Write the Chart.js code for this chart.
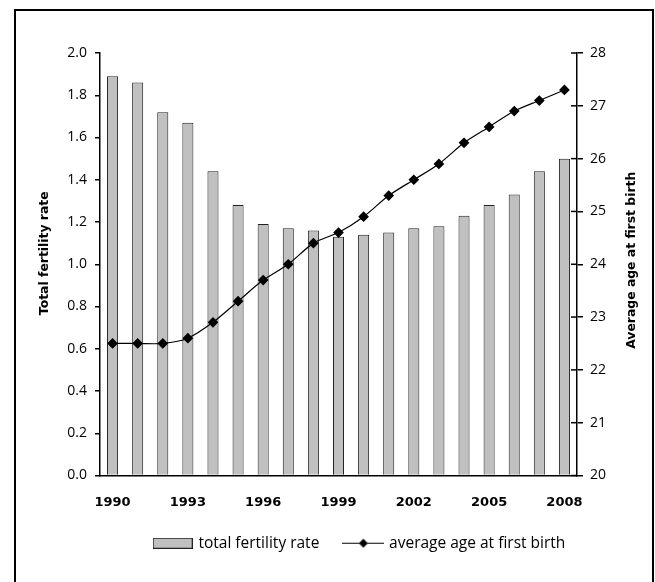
<!DOCTYPE html>
<html><head><meta charset="utf-8">
<script src="https://cdn.jsdelivr.net/npm/chart.js@4"></script>
<style>
html,body{margin:0;padding:0;background:#fff;}
#wrap{position:relative;width:655px;height:582px;overflow:hidden;}
#frame{position:absolute;left:14px;top:9px;width:636px;height:600px;border:2px solid #000;pointer-events:none;}
canvas{position:absolute;left:0;top:0;}
</style></head><body>
<div id="wrap"><canvas id="c" width="655" height="582" style="width:655px;height:582px"></canvas><div id="frame"></div></div>
<script>
const years = [1990,1991,1992,1993,1994,1995,1996,1997,1998,1999,2000,2001,2002,2003,2004,2005,2006,2007,2008];
const fertilityRate = [1.89,1.86,1.72,1.67,1.44,1.28,1.19,1.17,1.16,1.13,1.14,1.15,1.17,1.18,1.23,1.28,1.33,1.44,1.50];
const ageFirstBirth = [22.5,22.5,22.5,22.6,22.9,23.3,23.7,24.0,24.4,24.6,24.9,25.3,25.6,25.9,26.3,26.6,26.9,27.1,27.3];
const seriesNames = ['total fertility rate','average age at first birth'];
const leftAxisTitle = 'Total fertility rate';
const rightAxisTitle = 'Average age at first birth';

const tickFont = {family:"'Open Sans', sans-serif", size:14};
const boldFont = {family:"'DejaVu Sans', sans-serif", weight:'bold', size:13};
const titleFontCss = "bold 12.4px 'DejaVu Sans', sans-serif";

function makeBarSwatch(){
  const c = document.createElement('canvas'); c.width = 40; c.height = 11;
  const g = c.getContext('2d');
  g.fillStyle = '#c0c0c0'; g.fillRect(0,0,40,11);
  g.strokeStyle = '#222'; g.lineWidth = 1; g.strokeRect(0.5,0.5,39,10);
  return c;
}
function makeLineSwatch(){
  const c = document.createElement('canvas'); c.width = 42; c.height = 11;
  const g = c.getContext('2d');
  g.strokeStyle = '#000'; g.lineWidth = 1.2;
  g.beginPath(); g.moveTo(0,5.5); g.lineTo(42,5.5); g.stroke();
  g.fillStyle = '#000'; g.beginPath();
  g.moveTo(21,1); g.lineTo(25.5,5.5); g.lineTo(21,10); g.lineTo(16.5,5.5); g.closePath(); g.fill();
  return c;
}
const swatches = [makeBarSwatch(), makeLineSwatch()];

const extras = {
  id:'extras',
  afterDraw(chart){
    const s = chart.scales.y1, ctx = chart.ctx, a = chart.chartArea;
    ctx.save(); ctx.strokeStyle = '#000'; ctx.lineWidth = 1.5;
    s.ticks.forEach((t,i)=>{
      const yy = s.getPixelForTick(i);
      ctx.beginPath(); ctx.moveTo(a.right-6, yy); ctx.lineTo(a.right, yy); ctx.stroke();
    });
    // axis titles, both reading bottom-to-top
    ctx.fillStyle = '#000'; ctx.font = titleFontCss;
    ctx.textAlign = 'center'; ctx.textBaseline = 'middle';
    const cy = (a.top + a.bottom)/2;
    ctx.save(); ctx.translate(a.left - 55, cy - 11); ctx.rotate(-Math.PI/2);
    ctx.fillText(leftAxisTitle, 0, 0); ctx.restore();
    ctx.save(); ctx.translate(s.right - 23, cy - 4); ctx.rotate(-Math.PI/2);
    ctx.fillText(rightAxisTitle, 0, 0); ctx.restore();
    ctx.restore();
  }
};

new Chart(document.getElementById('c'), {
  data: {
    labels: years,
    datasets: [
      {type:'bar', label:seriesNames[0], data:fertilityRate, yAxisID:'y',
       backgroundColor:'#c0c0c0', borderColor:'#222', borderWidth:1,
       barPercentage:0.44, categoryPercentage:1, order:1},
      {type:'line', label:seriesNames[1], data:ageFirstBirth, yAxisID:'y1',
       borderColor:'#000', borderWidth:1.2, pointStyle:'rectRot', pointRadius:4.5,
       pointBackgroundColor:'#000', pointBorderColor:'#000', tension:0.25, order:0}
    ]
  },
  options: {
    responsive:false, animation:false,
    layout:{padding:{top:53, bottom:21, left:65, right:0}},
    plugins:{
      tooltip:{enabled:false},
      legend:{
        position:'bottom',
        labels:{
          usePointStyle:true, pointStyleWidth:36, boxHeight:11,
          color:'#000', font:{family:"'Open Sans', sans-serif", size:15.5}, padding:26,
          generateLabels(chart){
            return chart.data.datasets.map((d,i)=>({
              text:d.label, pointStyle:swatches[i], datasetIndex:i,
              fillStyle:'#c0c0c0', strokeStyle:'#000', lineWidth:0, fontColor:'#000'
            }));
          }
        }
      }
    },
    scales:{
      x:{
        grid:{display:false, drawTicks:false},
        border:{display:true, color:'#000', width:1.5},
        ticks:{autoSkip:false, maxRotation:0, color:'#000', font:boldFont, padding:19,
          callback:(v,i)=> i%3===0 ? String(years[i]) : ''},
        afterFit(s){ s.height = 34; }
      },
      y:{
        position:'left', min:0, max:2,
        ticks:{stepSize:0.2, color:'#000', font:tickFont, padding:8,
          callback:v=>Number(v).toFixed(1)},
        grid:{drawOnChartArea:false, color:'#000', lineWidth:1.5, tickLength:5},
        border:{color:'#000', width:1.5},
        title:{display:false, text:leftAxisTitle},
        afterFit(s){ s.width = 35; }
      },
      y1:{
        position:'right', min:20, max:28,
        ticks:{stepSize:1, color:'#000', font:tickFont, padding:7},
        grid:{drawOnChartArea:false, color:'#000', lineWidth:1.5, tickLength:6},
        border:{color:'#000', width:1.5},
        title:{display:false, text:rightAxisTitle},
        afterFit(s){ s.width = 78; }
      }
    }
  },
  plugins:[extras]
});
</script>
</body></html>
